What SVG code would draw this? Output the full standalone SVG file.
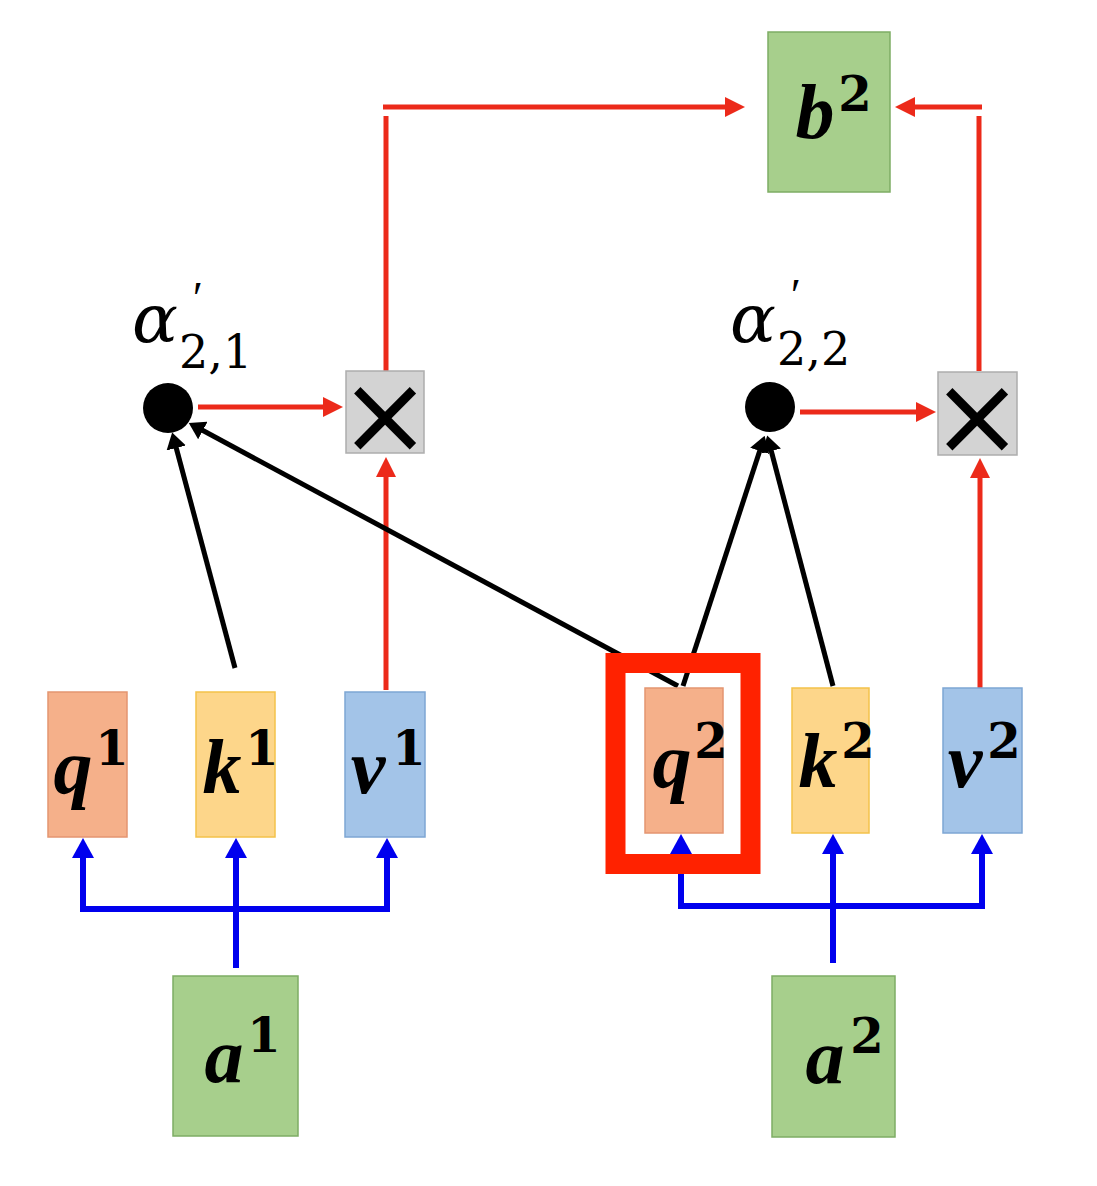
<svg xmlns="http://www.w3.org/2000/svg" width="1097" height="1186" viewBox="0 0 1097 1186">
<defs>
<style>
.box{stroke-width:1.5}
.q{fill:#f5b08a;stroke:#e49570}
.k{fill:#fdd68a;stroke:#f3c24a}
.v{fill:#a3c4e8;stroke:#7ea6d4}
.g{fill:#a7cf8c;stroke:#7ead64}
.m{fill:#d3d3d3;stroke:#adadad}
.lt{font-family:"Liberation Serif","DejaVu Serif",serif;font-style:italic;font-weight:bold;font-size:78px;fill:#000;text-anchor:middle}
.sp{font-family:"DejaVu Serif","Liberation Serif",serif;font-style:normal;font-weight:bold;font-size:48px;fill:#000;text-anchor:middle}
.al{font-family:"DejaVu Serif","Liberation Serif",serif;font-style:italic;font-size:68px;fill:#000}
.pr{font-family:"Liberation Serif","DejaVu Serif",serif;font-style:italic;font-size:46px;fill:#000}
.sb{font-family:"DejaVu Serif","Liberation Serif",serif;font-size:46px;fill:#000}
.mul{font-family:"DejaVu Sans","Liberation Sans",sans-serif;font-size:110px;fill:#000;text-anchor:middle}
.red{stroke:#ec2a1a;stroke-width:5;fill:none;marker-end:url(#ar)}
.redn{stroke:#ec2a1a;stroke-width:5;fill:none}
.blk{stroke:#000;stroke-width:5;fill:none;marker-end:url(#ab)}
.blu{stroke:#0000ee;stroke-width:6;fill:none;marker-end:url(#au)}
</style>
<marker id="ar" markerUnits="userSpaceOnUse" viewBox="0 0 20 20" markerWidth="20" markerHeight="20" refX="1" refY="10" orient="auto-start-reverse"><path d="M0,0 L20,10 L0,20 z" fill="#ec2a1a"/></marker>
<marker id="ab" markerUnits="userSpaceOnUse" viewBox="0 0 16 20" markerWidth="16" markerHeight="20" refX="1" refY="10" orient="auto-start-reverse"><path d="M0,0 L16,10 L0,20 z" fill="#000"/></marker>
<marker id="au" markerUnits="userSpaceOnUse" viewBox="0 0 20 22" markerWidth="20" markerHeight="22" refX="1" refY="11" orient="auto-start-reverse"><path d="M0,0 L20,11 L0,22 z" fill="#0000ee"/></marker>
</defs>
<rect width="1097" height="1186" fill="#fff"/>

<g id="connectors">
<line class="red" x1="198" y1="407" x2="324" y2="407"/>
<line class="red" x1="800" y1="412" x2="917" y2="412"/>
<line class="red" x1="386" y1="690" x2="386" y2="476"/>
<line class="red" x1="980" y1="688" x2="980" y2="477"/>
<line class="redn" x1="386" y1="371" x2="386" y2="116"/>
<line class="red" x1="383" y1="107" x2="726" y2="107"/>
<line class="redn" x1="979" y1="371" x2="979" y2="116"/>
<line class="red" x1="982" y1="107" x2="914" y2="107"/>
<line class="blk" x1="235" y1="668" x2="176" y2="447"/>
<line class="blk" x1="678" y1="686" x2="202" y2="430"/>
<line class="blk" x1="683" y1="686" x2="760" y2="450"/>
<line class="blk" x1="833" y1="686" x2="771" y2="450"/>
<path class="blu" d="M83,857 L83,909 L387,909 L387,857" marker-start="url(#au)"/>
<line class="blu" x1="236" y1="968" x2="236" y2="857"/>
<path class="blu" d="M681,853 L681,906 L982,906 L982,853" marker-start="url(#au)"/>
<line class="blu" x1="833" y1="963" x2="833" y2="853"/>
</g>

<g id="b2"><rect class="box g" x="768" y="32" width="122" height="160"/><text><tspan class="lt" x="815" y="138">b</tspan><tspan class="sp" x="855" y="111">2</tspan></text></g>

<g id="alpha21"><circle cx="168" cy="408" r="25" fill="#000"/><text><tspan class="al" x="132" y="342">α</tspan><tspan class="pr" x="190" y="314">′</tspan><tspan class="sb" x="179" y="368">2,1</tspan></text></g>
<g id="alpha22"><circle cx="770" cy="407" r="25" fill="#000"/><text><tspan class="al" x="730" y="342">α</tspan><tspan class="pr" x="788" y="311">′</tspan><tspan class="sb" x="777" y="365">2,2</tspan></text></g>

<g id="mul1"><rect class="box m" x="346" y="371" width="78" height="82"/><text class="mul" x="385" y="453">×</text></g>
<g id="mul2"><rect class="box m" x="938" y="372" width="79" height="83"/><text class="mul" x="977" y="454">×</text></g>

<g id="q1"><rect class="box q" x="48" y="692" width="79" height="145"/><text><tspan class="lt" x="73" y="793">q</tspan><tspan class="sp" x="112" y="765">1</tspan></text></g>
<g id="k1"><rect class="box k" x="196" y="692" width="79" height="145"/><text><tspan class="lt" x="222" y="793">k</tspan><tspan class="sp" x="262" y="765">1</tspan></text></g>
<g id="v1"><rect class="box v" x="345" y="692" width="80" height="145"/><text><tspan class="lt" x="368" y="793">v</tspan><tspan class="sp" x="409" y="765">1</tspan></text></g>

<g id="q2"><rect class="box q" x="645" y="688" width="78" height="145"/><text><tspan class="lt" x="672" y="787">q</tspan><tspan class="sp" x="711" y="758">2</tspan></text></g>
<g id="highlight"><rect x="615.5" y="663" width="135" height="201" fill="none" stroke="#ff2200" stroke-width="20"/></g>
<g id="k2"><rect class="box k" x="792" y="688" width="77" height="145"/><text><tspan class="lt" x="818" y="787">k</tspan><tspan class="sp" x="858" y="758">2</tspan></text></g>
<g id="v2"><rect class="box v" x="943" y="688" width="79" height="145"/><text><tspan class="lt" x="965" y="787">v</tspan><tspan class="sp" x="1004" y="758">2</tspan></text></g>

<g id="a1"><rect class="box g" x="173" y="976" width="125" height="160"/><text><tspan class="lt" x="224" y="1082">a</tspan><tspan class="sp" x="264" y="1052">1</tspan></text></g>
<g id="a2"><rect class="box g" x="772" y="976" width="123" height="161"/><text><tspan class="lt" x="825" y="1083">a</tspan><tspan class="sp" x="867" y="1053">2</tspan></text></g>
</svg>
